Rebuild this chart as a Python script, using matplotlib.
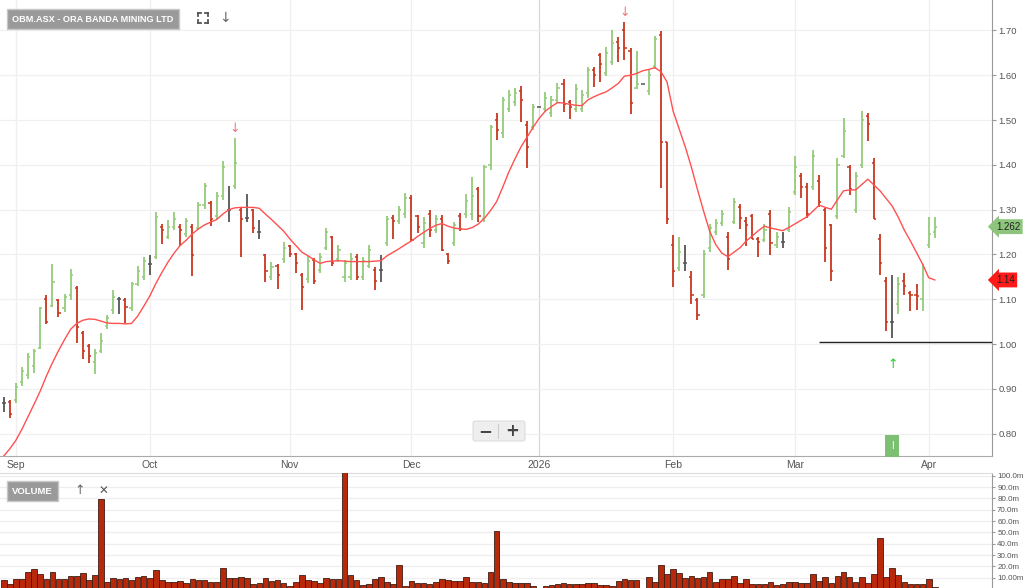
import numpy as np
import pandas as pd
import matplotlib
matplotlib.use("Agg")
import matplotlib.pyplot as plt
import matplotlib.transforms as mtrans
from matplotlib.patches import FancyBboxPatch
from matplotlib.lines import Line2D

plt.rcParams['font.family'] = ['Liberation Sans', 'DejaVu Sans']

ticker = "OBM.ASX - ORA BANDA MINING LTD"

# trading days shown (ASX closed on christmas / boxing day, jan 1 and jan 26 kept as flat bars)
dates = pd.bdate_range("2025-08-28", "2026-04-02")
dates = dates[~dates.isin(pd.to_datetime(["2025-12-25", "2025-12-26"]))]

opens = [0.869, 0.870, 0.875, 0.915, 0.930, 0.950, 0.990, 1.100, 1.085, 1.098,
         1.080, 1.110, 1.125, 1.025, 0.995, 0.960, 0.985, 1.040, 1.075, 1.100,
         1.098, 1.080, 1.135, 1.150, 1.179, 1.195, 1.262, 1.240, 1.262, 1.262,
         1.245, 1.262, 1.260, 1.310, 1.315, 1.285, 1.330, 1.300, 1.352, 1.300,
         1.281, 1.299, 1.251, 1.198, 1.150, 1.175, 1.190, 1.218, 1.200, 1.155,
         1.145, 1.188, 1.165, 1.215, 1.238, 1.190, 1.150, 1.150, 1.195, 1.150,
         1.175, 1.165, 1.165, 1.225, 1.282, 1.275, 1.290, 1.325, 1.285, 1.225,
         1.290, 1.255, 1.280, 1.200, 1.225, 1.285, 1.290, 1.290, 1.345, 1.280,
         1.400, 1.500, 1.470, 1.525, 1.540, 1.565, 1.490, 1.485, 1.530, 1.525,
         1.515, 1.545, 1.580, 1.540, 1.525, 1.525, 1.560, 1.612, 1.645, 1.605,
         1.630, 1.675, 1.700, 1.655, 1.572, 1.580, 1.565, 1.620, 1.690, 1.450,
         1.222, 1.170, 1.180, 1.150, 1.098, 1.110, 1.215, 1.250, 1.270, 1.240,
         1.272, 1.305, 1.275, 1.285, 1.235, 1.232, 1.290, 1.220, 1.228, 1.255,
         1.340, 1.375, 1.350, 1.350, 1.365, 1.300, 1.265, 1.285, 1.420, 1.395,
         1.300, 1.400, 1.510, 1.405, 1.235, 1.140, 1.050, 1.090, 1.140, 1.115,
         1.110, 1.100, 1.220, 1.250]

highs = [0.882, 0.875, 0.912, 0.949, 0.979, 0.988, 1.083, 1.109, 1.179, 1.100,
         1.112, 1.167, 1.130, 1.030, 1.000, 0.988, 1.024, 1.065, 1.120, 1.104,
         1.103, 1.139, 1.174, 1.195, 1.199, 1.295, 1.269, 1.277, 1.295, 1.268,
         1.281, 1.269, 1.318, 1.360, 1.320, 1.340, 1.409, 1.353, 1.461, 1.303,
         1.335, 1.301, 1.277, 1.201, 1.184, 1.179, 1.228, 1.221, 1.204, 1.159,
         1.196, 1.191, 1.204, 1.260, 1.241, 1.221, 1.188, 1.204, 1.201, 1.195,
         1.221, 1.171, 1.199, 1.286, 1.288, 1.308, 1.338, 1.333, 1.288, 1.284,
         1.299, 1.288, 1.288, 1.204, 1.273, 1.292, 1.336, 1.373, 1.351, 1.400,
         1.489, 1.515, 1.552, 1.567, 1.571, 1.576, 1.498, 1.536, 1.530, 1.563,
         1.554, 1.582, 1.591, 1.545, 1.580, 1.567, 1.619, 1.619, 1.649, 1.664,
         1.700, 1.686, 1.720, 1.660, 1.654, 1.580, 1.612, 1.688, 1.699, 1.450,
         1.243, 1.240, 1.222, 1.163, 1.103, 1.210, 1.269, 1.279, 1.299, 1.249,
         1.325, 1.313, 1.284, 1.290, 1.240, 1.269, 1.299, 1.249, 1.249, 1.306,
         1.420, 1.382, 1.359, 1.433, 1.377, 1.303, 1.268, 1.415, 1.504, 1.400,
         1.385, 1.521, 1.516, 1.415, 1.246, 1.149, 1.154, 1.149, 1.159, 1.119,
         1.134, 1.179, 1.284, 1.284]

lows = [0.849, 0.835, 0.868, 0.907, 0.923, 0.935, 0.988, 1.045, 1.083, 1.060,
        1.072, 1.098, 1.003, 0.967, 0.958, 0.933, 0.979, 1.033, 1.067, 1.067,
        1.048, 1.074, 1.129, 1.144, 1.154, 1.189, 1.223, 1.234, 1.254, 1.219,
        1.238, 1.152, 1.254, 1.301, 1.263, 1.278, 1.321, 1.273, 1.347, 1.195,
        1.273, 1.248, 1.234, 1.138, 1.143, 1.123, 1.181, 1.194, 1.158, 1.076,
        1.137, 1.134, 1.159, 1.211, 1.174, 1.184, 1.139, 1.143, 1.144, 1.143,
        1.169, 1.121, 1.139, 1.219, 1.234, 1.269, 1.281, 1.230, 1.248, 1.214,
        1.238, 1.248, 1.208, 1.179, 1.219, 1.253, 1.281, 1.277, 1.273, 1.273,
        1.388, 1.455, 1.459, 1.519, 1.532, 1.496, 1.392, 1.478, 1.530, 1.518,
        1.507, 1.539, 1.517, 1.502, 1.517, 1.517, 1.550, 1.574, 1.585, 1.598,
        1.622, 1.629, 1.634, 1.513, 1.569, 1.580, 1.555, 1.614, 1.349, 1.269,
        1.128, 1.163, 1.163, 1.089, 1.054, 1.103, 1.205, 1.243, 1.264, 1.165,
        1.267, 1.256, 1.219, 1.234, 1.194, 1.228, 1.199, 1.214, 1.214, 1.249,
        1.333, 1.327, 1.281, 1.344, 1.305, 1.184, 1.141, 1.278, 1.415, 1.333,
        1.293, 1.394, 1.454, 1.278, 1.154, 1.030, 1.013, 1.068, 1.109, 1.074,
        1.076, 1.074, 1.214, 1.236]

closes = [0.869, 0.844, 0.905, 0.940, 0.972, 0.985, 1.080, 1.050, 1.138, 1.070,
          1.105, 1.154, 1.039, 0.984, 0.973, 0.981, 1.007, 1.058, 1.105, 1.100,
          1.083, 1.135, 1.162, 1.185, 1.179, 1.284, 1.254, 1.262, 1.280, 1.254,
          1.275, 1.199, 1.310, 1.352, 1.278, 1.330, 1.396, 1.300, 1.405, 1.278,
          1.281, 1.260, 1.251, 1.164, 1.172, 1.154, 1.215, 1.200, 1.180, 1.128,
          1.185, 1.140, 1.195, 1.250, 1.180, 1.210, 1.180, 1.190, 1.150, 1.185,
          1.210, 1.140, 1.165, 1.278, 1.275, 1.300, 1.325, 1.232, 1.262, 1.270,
          1.255, 1.280, 1.210, 1.185, 1.265, 1.256, 1.320, 1.330, 1.285, 1.395,
          1.485, 1.478, 1.545, 1.555, 1.560, 1.545, 1.439, 1.530, 1.530, 1.550,
          1.545, 1.572, 1.535, 1.530, 1.570, 1.555, 1.612, 1.600, 1.625, 1.650,
          1.672, 1.660, 1.660, 1.539, 1.580, 1.580, 1.600, 1.680, 1.450, 1.279,
          1.163, 1.205, 1.180, 1.109, 1.065, 1.200, 1.260, 1.270, 1.290, 1.190,
          1.318, 1.281, 1.266, 1.235, 1.228, 1.255, 1.225, 1.240, 1.228, 1.295,
          1.395, 1.350, 1.290, 1.420, 1.318, 1.214, 1.164, 1.400, 1.475, 1.345,
          1.375, 1.500, 1.491, 1.280, 1.180, 1.050, 1.050, 1.135, 1.129, 1.110,
          1.107, 1.170, 1.246, 1.262]

# moving average line as drawn on the chart
ma = [0.750, 0.766, 0.785, 0.810, 0.838, 0.866, 0.895, 0.928, 0.958, 0.985,
      1.010, 1.033, 1.046, 1.053, 1.056, 1.055, 1.051, 1.047, 1.046, 1.046,
      1.045, 1.046, 1.062, 1.084, 1.107, 1.135, 1.160, 1.183, 1.203, 1.220,
      1.232, 1.246, 1.257, 1.266, 1.272, 1.278, 1.290, 1.300, 1.304, 1.305,
      1.305, 1.305, 1.303, 1.290, 1.278, 1.265, 1.252, 1.235, 1.220, 1.205,
      1.197, 1.188, 1.180, 1.184, 1.185, 1.186, 1.185, 1.184, 1.184, 1.184,
      1.184, 1.185, 1.186, 1.197, 1.205, 1.213, 1.222, 1.230, 1.240, 1.249,
      1.258, 1.265, 1.269, 1.263, 1.259, 1.257, 1.256, 1.260, 1.268, 1.281,
      1.298, 1.318, 1.350, 1.384, 1.413, 1.440, 1.462, 1.484, 1.504, 1.520,
      1.530, 1.539, 1.538, 1.535, 1.533, 1.532, 1.545, 1.552, 1.558, 1.563,
      1.572, 1.582, 1.598, 1.600, 1.604, 1.610, 1.613, 1.617, 1.608, 1.585,
      1.520, 1.480, 1.440, 1.395, 1.345, 1.297, 1.252, 1.222, 1.203, 1.195,
      1.205, 1.215, 1.230, 1.241, 1.253, 1.263, 1.259, 1.256, 1.253, 1.260,
      1.268, 1.276, 1.284, 1.297, 1.310, 1.305, 1.301, 1.322, 1.342, 1.344,
      1.344, 1.356, 1.368, 1.355, 1.342, 1.325, 1.308, 1.283, 1.254, 1.230,
      1.204, 1.178, 1.148, 1.143]

# volume in millions
volume = [7.9, 4.1, 8.5, 8.5, 15.3, 17.4, 12.9, 9.1, 14.7, 8.5,
          8.5, 11.8, 11.8, 13.8, 7.6, 12.4, 79.1, 6.2, 9.4, 8.8,
          9.4, 7.9, 10.3, 11.2, 9.7, 16.8, 7.9, 6.2, 6.2, 7.1,
          5.6, 9.1, 7.9, 7.9, 6.5, 6.5, 18.8, 9.4, 9.4, 10.6,
          9.4, 4.4, 5.6, 9.7, 7.1, 7.9, 5.0, 2.9, 6.2, 12.1,
          7.9, 7.1, 5.0, 9.7, 9.1, 8.8, 110.0, 12.4, 7.9, 3.5,
          4.4, 8.8, 10.3, 6.5, 4.4, 21.2, 2.6, 7.1, 5.0, 5.0,
          4.1, 5.9, 8.5, 7.6, 6.8, 6.8, 10.3, 6.2, 6.2, 5.6,
          14.7, 51.5, 9.1, 6.5, 5.0, 5.6, 5.3, 2.6, 0.0, 2.6,
          3.2, 4.1, 5.6, 4.1, 4.7, 4.1, 5.6, 5.0, 3.2, 3.2,
          2.6, 7.4, 8.5, 7.6, 7.6, 0.0, 10.9, 6.2, 21.2, 12.9,
          17.4, 14.4, 9.4, 11.8, 9.4, 10.3, 15.3, 6.5, 9.1, 9.1,
          11.8, 5.6, 8.5, 4.1, 4.1, 4.1, 6.2, 3.2, 4.1, 6.5,
          6.5, 5.0, 5.0, 13.5, 6.8, 10.9, 5.6, 11.5, 15.3, 10.9,
          6.5, 10.3, 5.6, 13.2, 44.7, 10.9, 18.8, 12.4, 5.9, 4.7,
          4.7, 4.7, 8.8, 1.5]

sell_signals = [38, 102]   # bar index of red arrows
buy_signals = [146]        # bar index of green arrow
info_marker = 146          # the green "I" flag
support_level = 1.005
support_from = 134

o = np.array(opens); h = np.array(highs); l = np.array(lows); c = np.array(closes)
x = np.arange(len(dates))

W, H = 1024, 588
fig = plt.figure(figsize=(W / 100, H / 100), dpi=100)
fig.patch.set_facecolor("white")

def fx(px):
    return px / W

def fy(py):
    return 1 - py / H

ax = fig.add_axes([0, fy(456), fx(992), 456 / H])
vax = fig.add_axes([0, 0, fx(992), (588 - 473) / H])

xlim = (-0.61, 162.4)

# ---- price panel ----
ax.set_xlim(*xlim)
ax.set_ylim(0.75, 1.768)

month_start = [i for i in range(1, len(dates)) if dates[i].month != dates[i - 1].month]
month_lbl = [str(dates[i].year) if dates[i].month == 1 else dates[i].strftime("%b") for i in month_start]
for i, lab in zip(month_start, month_lbl):
    ax.axvline(i, color="#d8d8d8" if lab.isdigit() else "#efefef", lw=0.9, zorder=0)

ax.set_yticks(np.arange(0.8, 1.71, 0.1))
ax.set_yticklabels([f"{v:.2f}" for v in np.arange(0.8, 1.71, 0.1)])
ax.grid(axis="y", color="#f0f0f0", lw=0.9, zorder=0)
ax.set_xticks(month_start)
ax.set_xticklabels(month_lbl)
ax.yaxis.tick_right()
ax.tick_params(axis="y", length=3, color="#999999", labelsize=6.8, labelcolor="#555555", pad=1.5)
ax.tick_params(axis="x", length=0, labelsize=7.5, labelcolor="#555555", pad=3)
for s in ["left", "top"]:
    ax.spines[s].set_visible(False)
ax.spines["right"].set_color("#999999")
ax.spines["bottom"].set_color("#aaaaaa")

up_c, dn_c, flat_c = "#93cc7a", "#c8361f", "#555555"
colors = np.where(c > o, up_c, np.where(c < o, dn_c, flat_c))
ax.vlines(x, l, h, colors=colors, lw=1.3, zorder=3)
ax.hlines(o, x - 0.35, x, colors=colors, lw=1.1, zorder=3)
ax.hlines(c, x, x + 0.35, colors=colors, lw=1.1, zorder=3)

ax.plot(x, ma, color="#ff5050", lw=1.0, zorder=4)

ax.hlines(support_level, support_from, xlim[1], color="#222222", lw=1.0, zorder=4)

for i in sell_signals:
    ax.annotate("↓", (i, h[i]), xytext=(0, 1.5), textcoords="offset points",
                ha="center", va="bottom", color="#f07777", fontsize=9, family="DejaVu Sans")
for i in buy_signals:
    ax.annotate("↑", (i, l[i]), xytext=(0, -14), textcoords="offset points",
                ha="center", va="top", color="#22cc22", fontsize=9, family="DejaVu Sans")

blend = mtrans.blended_transform_factory(ax.transData, ax.transAxes)
ax.text(info_marker, 0.022, "I", transform=blend, ha="center", va="center", color="white",
        fontsize=7, bbox=dict(boxstyle="square,pad=0.6", fc="#7dbf73", ec="none"))

# last price / last MA tags on the right axis
tag = mtrans.blended_transform_factory(ax.transAxes, ax.transData)
ax.text(1.004, c[-1], f"{c[-1]:.3f}", transform=tag, ha="left", va="center", fontsize=7,
        color="#222222", bbox=dict(boxstyle="larrow,pad=0.25", fc="#8dc57c", ec="none"))
ax.text(1.004, ma[-1], f"{ma[-1]:.2f}", transform=tag, ha="left", va="center", fontsize=7,
        color="#222222", bbox=dict(boxstyle="larrow,pad=0.25", fc="#ff1a1a", ec="none"))

# ---- volume panel ----
vax.set_xlim(*xlim)
vax.set_ylim(0.9, 102.4)
vax.bar(x, volume, width=0.92, color="#b8290c", edgecolor="#3b1e14", lw=0.6, zorder=3)
vt = np.arange(10, 101, 10)
vax.set_yticks(vt)
vax.set_yticklabels(["10.00m" if v == 10 else f"{v:.1f}m" for v in vt])
vax.yaxis.tick_right()
vax.grid(axis="y", color="#eeeeee", lw=0.9, zorder=0)
vax.set_xticks([])
vax.tick_params(axis="y", length=2.5, color="#999999", labelsize=5.8, labelcolor="#555555", pad=1.2)
for s in ["left", "bottom"]:
    vax.spines[s].set_visible(False)
vax.spines["right"].set_color("#999999")
vax.spines["top"].set_color("#dddddd")

# ---- header widgets ----
fig.text(fx(12), fy(19), ticker, ha="left", va="center", color="white", fontsize=6.6,
         fontweight="bold", bbox=dict(boxstyle="square,pad=0.6", fc="#9a9a9a", ec="#c8c8c8"))
for (x0, y0, dx, dy) in [(198, 13, 1, 1), (208, 13, -1, 1), (198, 23, 1, -1), (208, 23, -1, -1)]:
    fig.add_artist(Line2D([fx(x0), fx(x0 + 3 * dx)], [fy(y0), fy(y0)], color="#555555", lw=1.3))
    fig.add_artist(Line2D([fx(x0), fx(x0)], [fy(y0), fy(y0 + 3 * dy)], color="#555555", lw=1.3))
fig.text(fx(225), fy(18), "↓", ha="center", va="center", color="#666666", fontsize=10, family="DejaVu Sans")

fig.text(fx(12), fy(491), "VOLUME", ha="left", va="center", color="white", fontsize=6.8,
         fontweight="bold", bbox=dict(boxstyle="square,pad=0.55", fc="#9a9a9a", ec="#c8c8c8"))
fig.text(fx(80), fy(491), "↑", ha="center", va="center", color="#666666", fontsize=9, family="DejaVu Sans")
fig.text(fx(103), fy(491), "✕", ha="center", va="center", color="#555555", fontsize=8.5, family="DejaVu Sans")

# zoom buttons
fig.patches.append(FancyBboxPatch((fx(473), fy(441)), fx(52), 20 / H, boxstyle="round,pad=0,rounding_size=0.003",
                                  fc="#eeeeee", ec="#dddddd", lw=0.8, transform=fig.transFigure))
fig.add_artist(Line2D([fx(498), fx(498)], [fy(424), fy(438)], color="#cccccc", lw=0.8))
fig.text(fx(485), fy(431), "−", ha="center", va="center", color="#444444", fontsize=12, fontweight="bold", family="DejaVu Sans")
fig.text(fx(512), fy(431), "+", ha="center", va="center", color="#444444", fontsize=12, fontweight="bold", family="DejaVu Sans")

fig.savefig("out.png", dpi=100)
